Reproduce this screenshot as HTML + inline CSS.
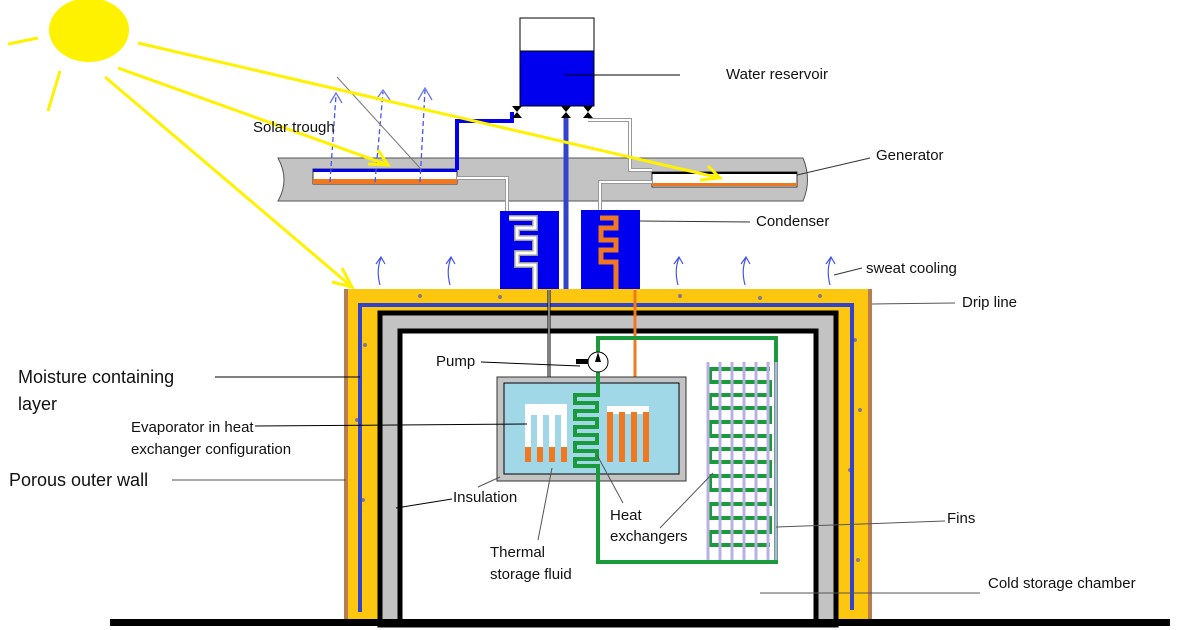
<!DOCTYPE html>
<html><head><meta charset="utf-8"><style>
html,body{margin:0;padding:0;background:#fff;width:1200px;height:630px;overflow:hidden}
svg{display:block}
text{font-family:"Liberation Sans",sans-serif;fill:#111}
</style></head><body>
<svg width="1200" height="630" viewBox="0 0 1200 630">
<!-- sun -->
<ellipse cx="89" cy="30" rx="40" ry="32" fill="#fff200"/>
<!-- reservoir -->
<rect x="520" y="18" width="74" height="88" fill="#fff" stroke="#000"/>
<rect x="520" y="51" width="74" height="55" fill="#0000ee" stroke="#000"/>
<line x1="565" y1="75" x2="680" y2="75" stroke="#000"/>
<text x="726" y="79" font-size="15">Water reservoir</text>
<!-- trough -->
<path d="M278 158 L803 158 Q812 180 803 201 L278 201 Q290 180 278 158 Z" fill="#c3c3c3" stroke="#555"/>
<rect x="313" y="169" width="144" height="15" fill="#fff" stroke="#333"/>
<rect x="313" y="169" width="144" height="3" fill="#0000ee"/>
<rect x="313" y="179" width="144" height="5" fill="#f07820"/>
<rect x="652" y="172" width="145" height="15" fill="#fff" stroke="#333"/>
<rect x="652" y="172" width="145" height="2" fill="#000"/>
<rect x="652" y="183" width="145" height="3" fill="#f07820"/>
<!-- pipes -->
<path d="M457 170 L457 121 L512 121 L512 112" fill="none" stroke="#0000ee" stroke-width="4"/>
<line x1="566" y1="118" x2="566" y2="305" stroke="#3344cc" stroke-width="5"/>
<path d="M588 120 L630 120 L630 170 L652 170" fill="none" stroke="#999" stroke-width="4"/>
<path d="M588 120 L630 120 L630 170 L652 170" fill="none" stroke="#fff" stroke-width="2"/>
<path d="M457 178 L507 178 L507 218 L525 218" fill="none" stroke="#999" stroke-width="4"/>
<path d="M457 178 L507 178 L507 218 L525 218" fill="none" stroke="#fff" stroke-width="2"/>
<path d="M652 182 L600 182 L600 218" fill="none" stroke="#999" stroke-width="4"/>
<path d="M652 182 L600 182 L600 218" fill="none" stroke="#fff" stroke-width="2"/>
<g fill="#000"><path d="M512 106 L522 106 L512 118 L522 118Z"/><path d="M561 106 L571 106 L561 118 L571 118Z"/><path d="M583 106 L593 106 L583 118 L593 118Z"/></g>
<!-- blue dashed arrows -->
<g stroke="#4455ee" stroke-width="1.3" fill="none" stroke-dasharray="5 3">
<path d="M330 182 L336 95"/><path d="M375 182 L383 92"/><path d="M420 182 L425 90"/>
</g>
<g stroke="#6677ee" stroke-width="1.3" fill="none">
<path d="M330 103 L336 93 L342 103"/><path d="M376 100 L383 90 L390 100"/><path d="M418 100 L425 88 L432 100"/>
</g>
<line x1="337" y1="77" x2="420" y2="168" stroke="#777"/>
<!-- rays over trough -->
<g stroke="#fff200" stroke-width="3" fill="none">
<line x1="8" y1="44" x2="38" y2="38"/><line x1="60" y1="71" x2="48" y2="111"/>
<line x1="138" y1="43" x2="720" y2="178"/><line x1="118" y1="68" x2="388" y2="165"/>
<line x1="105" y1="77" x2="352" y2="287"/>
<path d="M342 268 L352 287 L332 282"/>
<path d="M378 150 L388 165 L368 164"/>
<path d="M708 166 L720 178 L700 180"/>
</g>
<text x="253" y="132" font-size="15">Solar trough</text>
<line x1="797" y1="175" x2="870" y2="158" stroke="#333"/>
<text x="876" y="160" font-size="15">Generator</text>
<!-- condensers -->
<rect x="500" y="211" width="59" height="79" fill="#0000ee"/>
<rect x="581" y="210" width="59" height="80" fill="#0000ee"/>
<path d="M509 218 L535 218 L535 228 L517 228 L517 238 L535 238 L535 253 L517 253 L517 265 L535 265 L535 290" fill="none" stroke="#999" stroke-width="6"/>
<path d="M509 218 L535 218 L535 228 L517 228 L517 238 L535 238 L535 253 L517 253 L517 265 L535 265 L535 290" fill="none" stroke="#fff" stroke-width="3"/>
<path d="M600 218 L616 218 L616 228 L601 228 L601 240 L616 240 L616 250 L601 250 L601 262 L616 262 L616 290" fill="none" stroke="#f07820" stroke-width="5"/>
<line x1="640" y1="221" x2="750" y2="222" stroke="#333"/>
<text x="756" y="226" font-size="15">Condenser</text>
<!-- sweat cooling arrows -->
<g stroke="#4455ee" fill="none" stroke-width="1.2">
<path d="M380 285 Q376 270 381 258 M376 264 L381 257 L385 264"/>
<path d="M450 285 Q446 270 451 258 M446 264 L451 257 L455 264"/>
<path d="M678 285 Q674 270 679 258 M674 264 L679 257 L683 264"/>
<path d="M745 285 Q741 270 746 258 M741 264 L746 257 L750 264"/>
<path d="M830 285 Q826 270 831 258 M826 264 L831 257 L835 264"/>
</g>
<line x1="834" y1="275" x2="862" y2="268" stroke="#333"/>
<text x="866" y="273" font-size="15">sweat cooling</text>
<!-- walls -->
<rect x="344" y="289" width="528" height="333" fill="#fdc60f"/>
<rect x="344" y="289" width="4" height="333" fill="#b77c50"/>
<rect x="868" y="289" width="4" height="333" fill="#b77c50"/>
<g fill="#3344dd" opacity="0.6">
<circle cx="365" cy="345" r="2"/><circle cx="357" cy="420" r="2"/><circle cx="363" cy="500" r="2"/><circle cx="360" cy="580" r="2"/><circle cx="855" cy="340" r="2"/><circle cx="860" cy="410" r="2"/><circle cx="850" cy="470" r="2"/><circle cx="858" cy="560" r="2"/><circle cx="420" cy="296" r="2"/><circle cx="500" cy="297" r="2"/><circle cx="680" cy="296" r="2"/><circle cx="760" cy="298" r="2"/><circle cx="820" cy="296" r="2"/>
</g>
<path d="M360 612 L360 305 L852 305 L852 610" fill="none" stroke="#3344cc" stroke-width="4"/>
<rect x="380" y="313" width="456" height="312" fill="#c3c3c3" stroke="#000" stroke-width="5"/>
<rect x="400" y="331" width="416" height="292" fill="#fff" stroke="#000" stroke-width="5"/>
<line x1="872" y1="304" x2="955" y2="303" stroke="#555"/>
<text x="962" y="307" font-size="15">Drip line</text>
<rect x="110" y="619" width="1060" height="7" fill="#000"/>
<!-- pipes into tank -->
<line x1="549" y1="290" x2="549" y2="405" stroke="#000" stroke-width="3"/>
<line x1="549" y1="290" x2="549" y2="405" stroke="#fff" stroke-width="1"/>
<line x1="635" y1="290" x2="635" y2="405" stroke="#f07820" stroke-width="3"/>
<!-- tank -->
<rect x="497" y="377" width="189" height="104" fill="#c3c3c3" stroke="#333"/>
<rect x="504" y="383" width="175" height="91" fill="#a0d8e8" stroke="#000"/>
<rect x="525" y="404" width="42" height="11" fill="#fff"/>
<g fill="#fff"><rect x="525" y="404" width="6" height="58"/><rect x="537" y="404" width="6" height="58"/><rect x="549" y="404" width="6" height="58"/><rect x="561" y="404" width="6" height="58"/></g>
<g fill="#f07820"><rect x="525" y="447" width="6" height="15"/><rect x="537" y="447" width="6" height="15"/><rect x="549" y="447" width="6" height="15"/><rect x="561" y="447" width="6" height="15"/></g>
<rect x="607" y="406" width="42" height="8" fill="#fff"/>
<g fill="#f07820"><rect x="607" y="412" width="6" height="50"/><rect x="619" y="412" width="6" height="50"/><rect x="631" y="412" width="6" height="50"/><rect x="643" y="412" width="6" height="50"/></g>
<!-- green loop -->
<path d="M598 372 L598 395 L575 395 L575 403 L597 403 L597 411 L575 411 L575 419 L597 419 L597 427 L575 427 L575 435 L597 435 L597 443 L575 443 L575 451 L597 451 L597 459 L575 459 L575 466 L598 466 L598 562 L776 562 L776 338 L598 338 L598 352" fill="none" stroke="#1a9a3a" stroke-width="4"/>
<circle cx="598" cy="362" r="10" fill="#fff" stroke="#000"/>
<rect x="576" y="359" width="12" height="5" fill="#000"/>
<path d="M598 352 L595 362 L601 362Z" fill="#000"/>
<line x1="481" y1="362" x2="580" y2="366" stroke="#000"/>
<text x="436" y="366" font-size="15">Pump</text>
<!-- fins -->
<path d="M770 369 L710 369 L710 382 L770 382 L770 395 L710 395 L710 408 L770 408 L770 422 L710 422 L710 436 L770 436 L770 449 L710 449 L710 462 L770 462 L770 476 L710 476 L710 490 L770 490 L770 504 L710 504 L710 518 L770 518 L770 532 L710 532 L710 545 L770 545" fill="none" stroke="#1a9a3a" stroke-width="4"/>
<g stroke="#b8b0e0" stroke-width="3"><line x1="708" y1="362" x2="708" y2="560"/><line x1="720" y1="362" x2="720" y2="560"/><line x1="732" y1="362" x2="732" y2="560"/><line x1="744" y1="362" x2="744" y2="560"/><line x1="756" y1="362" x2="756" y2="560"/><line x1="768" y1="362" x2="768" y2="560"/><line x1="776" y1="362" x2="776" y2="560"/></g>
<line x1="776" y1="527" x2="945" y2="521" stroke="#555"/>
<text x="947" y="523" font-size="15">Fins</text>
<!-- labels -->
<line x1="215" y1="377" x2="360" y2="377" stroke="#000"/>
<text x="18" y="383" font-size="18">Moisture containing</text>
<text x="18" y="410" font-size="18">layer</text>
<line x1="255" y1="426" x2="527" y2="424" stroke="#000"/>
<text x="131" y="432" font-size="15">Evaporator in heat</text>
<text x="131" y="454" font-size="15">exchanger configuration</text>
<line x1="172" y1="480" x2="346" y2="480" stroke="#555"/>
<text x="9" y="486" font-size="18">Porous outer wall</text>
<text x="453" y="502" font-size="15">Insulation</text>
<line x1="452" y1="499" x2="396" y2="508" stroke="#000"/>
<line x1="478" y1="487" x2="500" y2="477" stroke="#555"/>
<line x1="538" y1="540" x2="552" y2="468" stroke="#555"/>
<text x="490" y="557" font-size="15">Thermal</text>
<text x="490" y="579" font-size="15">storage fluid</text>
<line x1="623" y1="503" x2="597" y2="455" stroke="#555"/>
<line x1="660" y1="528" x2="713" y2="473" stroke="#555"/>
<text x="610" y="520" font-size="15">Heat</text>
<text x="610" y="541" font-size="15">exchangers</text>
<line x1="760" y1="593" x2="980" y2="593" stroke="#555"/>
<text x="988" y="588" font-size="15">Cold storage chamber</text>
</svg>
</body></html>
